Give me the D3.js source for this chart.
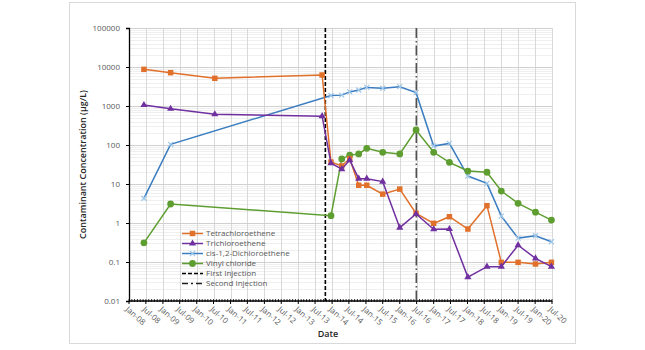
<!DOCTYPE html>
<html><head><meta charset="utf-8">
<script src="https://cdn.jsdelivr.net/npm/d3@7"></script>
<style>body{margin:0;background:#fff;}svg{display:block;font-family:"Open Sans","Noto Sans",sans-serif;}</style>
</head><body><svg id="c" width="645" height="350"></svg>
<script>
// ---- data ----
const dates = ["2008-06-10","2009-03-25","2010-07-15","2013-09-15","2013-12-20","2014-04-15","2014-07-10","2014-10-15","2015-01-10","2015-07-01","2016-01-01","2016-06-25","2017-01-01","2017-06-20","2018-01-05","2018-07-30","2019-01-01","2019-07-01","2020-01-05","2020-06-25"];
const tetrachloroethene = [8700,7150,5130,6240,36.6,29,45,9.3,9.3,5.5,7.4,1.77,0.98,1.45,0.70,2.78,0.098,0.098,0.089,0.098];
const trichloroethene  = [1060,850,612,550,34,24,41,13.7,13.7,11.5,0.76,1.70,0.69,0.70,0.041,0.076,0.076,0.27,0.124,0.076];
const cisDCE           = [4.3,104,null,null,1860,1900,2300,2570,3000,2850,3130,2200,94,110,16,10.4,1.5,0.41,0.47,0.33];
const vinylChloride    = [0.31,3.07,null,null,1.54,44,55,59,82,65,59,243,65,36,21.5,20,6.6,3.2,1.9,1.19];
const firstInjection = "2013-10-20";
const secondInjection = "2016-06-28";
const yTicks = [0.01,0.1,1,10,100,1000,10000,100000];
const yTickLabels = ["0.01","0.1","1","10","100","1000","10000","100000"];
const seriesNames = ["Tetrachloroethene","Trichloroethene","cis-1,2-Dichloroethene","Vinyl chloride"];
const injectionNames = ["First Injection","Second Injection"];

// ---- layout ----
const svg = d3.select("#c");
const L=129,R=552,T=28,B=301;
const parse = d3.timeParse("%Y-%m-%d");
const x = d3.scaleTime().domain([new Date(2008,0,1), new Date(2020,6,1)]).range([L,R]);
const y = d3.scaleLog().domain([0.01,100000]).range([B,T]);

svg.append("rect").attr("x",69.5).attr("y",2.5).attr("width",506).attr("height",341)
  .attr("fill","#fff").attr("stroke","#d9d9d9");

// minor horizontal grid
const minor=[];
for(let e=-2;e<5;e++) for(let k=2;k<10;k++) minor.push(k*Math.pow(10,e));
svg.append("g").selectAll("line").data(minor).join("line")
  .attr("x1",L).attr("x2",R).attr("y1",d=>Math.round(y(d))+0.5).attr("y2",d=>Math.round(y(d))+0.5)
  .attr("stroke","#efefef").attr("stroke-width",1);
// vertical grid (half-years)
const halfYears = d3.timeMonth.every(6).range(new Date(2008,0,1), new Date(2020,7,1));
svg.append("g").selectAll("line").data(halfYears.slice(1)).join("line")
  .attr("x1",d=>Math.round(x(d))+0.5).attr("x2",d=>Math.round(x(d))+0.5).attr("y1",T).attr("y2",B)
  .attr("stroke","#d9d9d9");
// major horizontal grid
svg.append("g").selectAll("line").data(yTicks.slice(1)).join("line")
  .attr("x1",L).attr("x2",R).attr("y1",d=>Math.round(y(d))+0.5).attr("y2",d=>Math.round(y(d))+0.5)
  .attr("stroke","#d0d0d0");

// y axis
const ya = d3.axisLeft(y).tickValues(yTicks).tickFormat((d,i)=>yTickLabels[i]).tickSize(3).tickPadding(6);
const gy = svg.append("g").attr("transform",`translate(${L},0)`).call(ya);
gy.select(".domain").attr("stroke","#000").attr("stroke-width",1.3);
gy.selectAll(".tick line").attr("stroke","#000");
gy.selectAll(".tick text").attr("fill","#595959").attr("font-size",8).attr("font-family","Open Sans");

// x axis
const months = d3.timeMonth.range(new Date(2008,0,1), new Date(2020,7,1));
const gx = svg.append("g");
gx.selectAll("line.m").data(months).join("line").attr("class","m")
  .attr("x1",d=>x(d)).attr("x2",d=>x(d)).attr("y1",B-2).attr("y2",B+1).attr("stroke","#000").attr("stroke-width",0.8);
gx.selectAll("line.h").data(halfYears).join("line").attr("class","h")
  .attr("x1",d=>x(d)).attr("x2",d=>x(d)).attr("y1",B).attr("y2",B+3).attr("stroke","#000").attr("stroke-width",1);
gx.append("line").attr("x1",L).attr("x2",R).attr("y1",B).attr("y2",B).attr("stroke","#000").attr("stroke-width",1.3);
const fmt = d3.timeFormat("%b-%y");
gx.selectAll("text").data(halfYears).join("text")
  .attr("transform",d=>`translate(${x(d)-2},${B+7}) rotate(42)`)
  .attr("font-size",8).attr("fill","#595959").attr("dy","0.35em").text(d=>fmt(d));

// titles
svg.append("text").attr("x",328).attr("y",337).attr("text-anchor","middle")
  .attr("font-size",9).attr("font-weight",600).attr("fill","#262626").text("Date");
svg.append("text").attr("transform",`translate(86,${(T+B)/2}) rotate(-90)`).attr("text-anchor","middle")
  .attr("font-size",9).attr("font-weight",600).attr("fill","#262626").text("Contaminant Concentration (µg/L)");

// injection lines
svg.append("line").attr("x1",x(parse(firstInjection))).attr("x2",x(parse(firstInjection))).attr("y1",T).attr("y2",B)
  .attr("stroke","#000").attr("stroke-width",1.6).attr("stroke-dasharray","4,2");
svg.append("line").attr("x1",x(parse(secondInjection))).attr("x2",x(parse(secondInjection))).attr("y1",T).attr("y2",B)
  .attr("stroke","#505050").attr("stroke-width",1.6).attr("stroke-dasharray","10,3,1.5,3");

// series
const colors = ["#E0702A","#7030A0","#3B7DC0","#5E9E30"];
const markerCol = ["#E0702A","#7030A0","#9EC6E8","#5E9E30"];
const symbols = [d3.symbolSquare,d3.symbolTriangle,d3.symbolCross,d3.symbolCircle];
const allSeries=[tetrachloroethene,trichloroethene,cisDCE,vinylChloride];
function drawMarker(g,i,cx,cy){
  if(i===2){
    g.append("path").attr("d",`M${cx-2.5},${cy-2.5}L${cx+2.5},${cy+2.5}M${cx-2.5},${cy+2.5}L${cx+2.5},${cy-2.5}`)
     .attr("stroke",markerCol[i]).attr("stroke-width",1.2).attr("fill","none");
  } else {
    const size=[30,22,0,36][i];
    g.append("path").attr("d",d3.symbol(symbols[i],size)()).attr("transform",`translate(${cx},${cy})`)
     .attr("fill",markerCol[i]);
  }
}
const order=[2,3,0,1];
order.forEach(i=>{
  const pts = dates.map((d,j)=>({d:parse(d),v:allSeries[i][j]})).filter(p=>p.v!=null);
  const line = d3.line().x(p=>x(p.d)).y(p=>y(p.v));
  svg.append("path").datum(pts).attr("d",line).attr("fill","none").attr("stroke",colors[i]).attr("stroke-width",1.5);
  const g=svg.append("g");
  pts.forEach(p=>drawMarker(g,i,x(p.d),y(p.v)));
});

// legend
const lg = svg.append("g");
const lx1=182,lx2=203,ly0=233.5,dy=10;
seriesNames.forEach((n,i)=>{
  const yy=ly0+i*dy;
  lg.append("line").attr("x1",lx1).attr("x2",lx2).attr("y1",yy).attr("y2",yy).attr("stroke",colors[i]).attr("stroke-width",1.5);
  drawMarker(lg,i,(lx1+lx2)/2,yy);
  lg.append("text").attr("x",206).attr("y",yy).attr("dy","0.35em").attr("font-size",8).attr("fill","#595959").text(n);
});
injectionNames.forEach((n,k)=>{
  const yy=ly0+(4+k)*dy;
  lg.append("line").attr("x1",lx1).attr("x2",lx2).attr("y1",yy).attr("y2",yy)
    .attr("stroke",k?"#202020":"#000").attr("stroke-width",1.6).attr("stroke-dasharray",k?"6,3,2,3":"4,2");
  lg.append("text").attr("x",206).attr("y",yy).attr("dy","0.35em").attr("font-size",8).attr("fill","#595959").text(n);
});
</script></body></html>
